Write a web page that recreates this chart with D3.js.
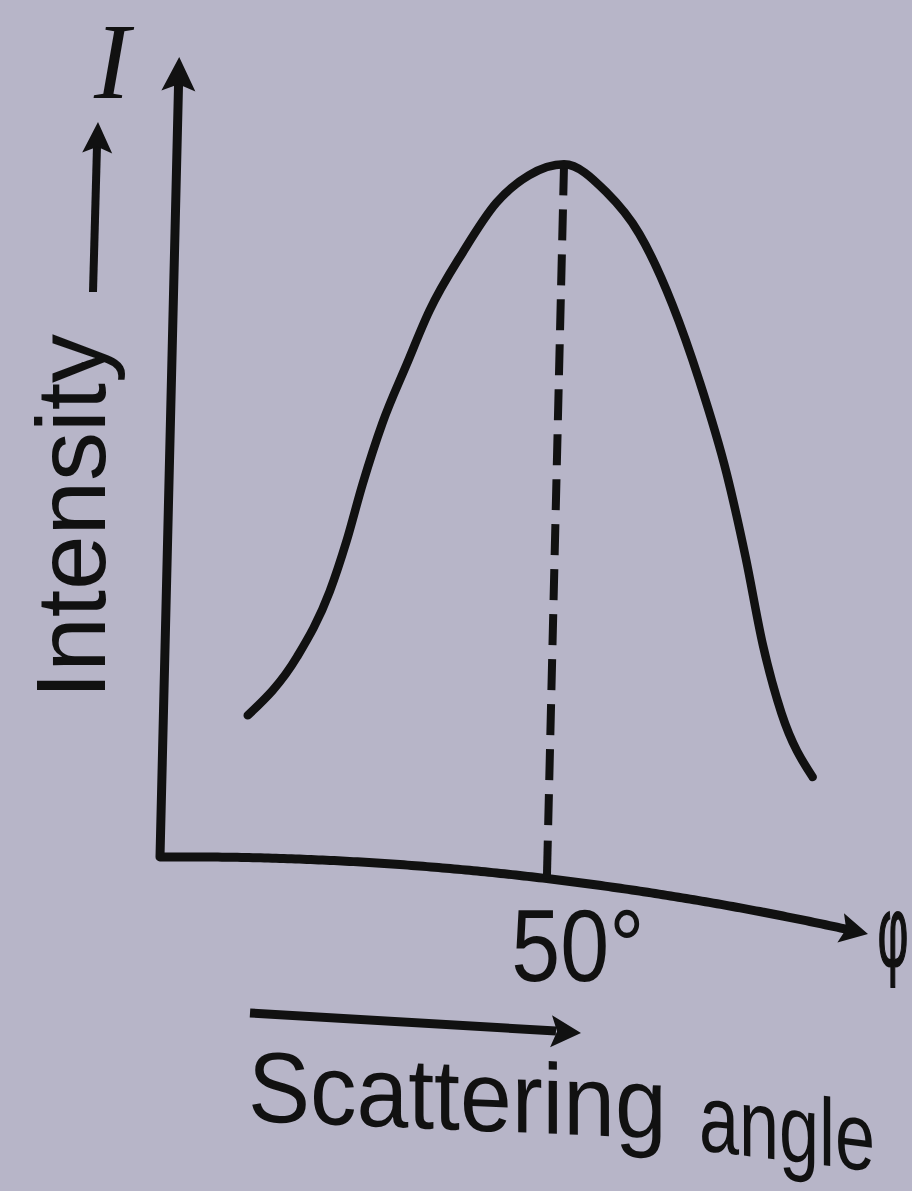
<!DOCTYPE html>
<html>
<head>
<meta charset="utf-8">
<script src="https://cdn.jsdelivr.net/npm/d3@7"></script>
<style>
  html, body { margin: 0; padding: 0; background: #b7b5c8; }
  svg { display: block; }
</style>
</head>
<body>
<div id="chart"></div>
<script>
// scattering angle (deg) vs relative intensity
const angles    = [10.9, 17.1, 21.1, 23.1, 25.0, 27.4, 30.3, 33.1, 37.2, 41.4, 45.5, 50.0,
                   55.5, 59.9, 64.4, 68.1, 71.9, 74.6, 77.1, 79.7, 83.9]
const intensity = [0.199, 0.283, 0.376, 0.447, 0.528, 0.616, 0.699, 0.777, 0.862, 0.936, 0.979, 1.0,
                   0.969, 0.917, 0.825, 0.725, 0.602, 0.490, 0.372, 0.282, 0.202]
const peakAngle = 50
const tickLabels = ['50°']
const xTitle = ['Scattering', 'angle']
const yTitle = 'Intensity'
const ySymbol = 'I'
const xSymbol = 'φ'

const width = 912
const height = 1191
const origin = [160, 857]
const ink = '#111'
const sans = '"Liberation Sans", Arial, sans-serif'

const x = d3.scaleLinear().domain([0, 91.5]).range([0, 708])
const y = d3.scaleLinear().domain([0, 1.12]).range([0, 800])

// the page was photographed at a slant: verticals lean right, the baseline sags
function warp(u, v) {
  return [origin[0] + u + 0.024 * v, origin[1] - v - 0.008 * u + 1.65e-4 * u * u]
}

function arrowHead(tip, dir, len, half) {
  const n = Math.hypot(dir[0], dir[1])
  const d = [dir[0] / n, dir[1] / n]
  const p = [-d[1], d[0]]
  const back = [tip[0] - d[0] * len, tip[1] - d[1] * len]
  const notch = [back[0] + d[0] * len * 0.2, back[1] + d[1] * len * 0.2]
  return 'M' + [tip,
    [back[0] + p[0] * half, back[1] + p[1] * half],
    notch,
    [back[0] - p[0] * half, back[1] - p[1] * half]].map(q => q.join(',')).join('L') + 'Z'
}

const svg = d3.select('#chart').append('svg')
  .attr('width', width)
  .attr('height', height)
  .attr('viewBox', [0, 0, width, height])

svg.append('rect')
  .attr('width', width)
  .attr('height', height)
  .attr('fill', '#b7b5c8')

const line = d3.line()

function label(transform, size, txt) {
  return svg.append('text')
    .attr('transform', transform)
    .attr('fill', ink)
    .style('font-family', sans)
    .style('font-size', size + 'px')
    .text(txt)
}

// --- axes ---
const xMax = x.domain()[1]
const yMax = y.domain()[1]
const axisPts = [warp(0, y(yMax) - 24), warp(0, 0)]
d3.range(0.5, xMax - 2.6, 0.5).forEach(a => axisPts.push(warp(x(a), 0)))
axisPts.push(warp(x(xMax - 2.6), 0))

svg.append('path')
  .attr('d', line(axisPts))
  .attr('fill', 'none')
  .attr('stroke', ink)
  .attr('stroke-width', 9)
  .attr('stroke-linejoin', 'round')

const uEnd = x(xMax)
svg.append('path')
  .attr('d', arrowHead(warp(uEnd, 0), [1, -0.008 + 3.3e-4 * uEnd], 28, 15))
  .attr('fill', ink)

svg.append('path')
  .attr('d', arrowHead(warp(0, y(yMax)), [0.024, -1], 34, 17))
  .attr('fill', ink)

// --- peak marker ---
svg.append('path')
  .attr('d', line([warp(x(peakAngle), y(1.0)), warp(x(peakAngle), 44)]))
  .attr('stroke', ink)
  .attr('stroke-width', 8)
  .attr('stroke-dasharray', '31 14')

svg.append('path')
  .attr('d', line([warp(x(peakAngle), 0), warp(x(peakAngle), 38)]))
  .attr('stroke', ink)
  .attr('stroke-width', 8)

const tickBase = warp(x(peakAngle), 0)
label(`translate(${tickBase[0] + 31},${tickBase[1] + 102}) scale(0.88,1.02)`, 100, tickLabels[0])
  .attr('text-anchor', 'middle')

// --- curve ---
const pts = angles.map((a, i) => warp(x(a), y(intensity[i])))
svg.append('path')
  .attr('d', d3.line().curve(d3.curveMonotoneX)(pts))
  .attr('fill', 'none')
  .attr('stroke', ink)
  .attr('stroke-width', 8.5)
  .attr('stroke-linecap', 'round')

// --- axis symbols ---
svg.append('text')
  .attr('transform', 'translate(112,98)')
  .attr('text-anchor', 'middle')
  .attr('fill', ink)
  .style('font-family', '"Liberation Serif", "Times New Roman", serif')
  .style('font-style', 'italic')
  .style('font-size', '108px')
  .text(ySymbol)

const xTip = warp(uEnd, 0)
label(`translate(${xTip[0] + 25},${xTip[1] + 32}) scale(0.48,1.02)`, 98, xSymbol)
  .attr('text-anchor', 'middle')
  .attr('stroke', ink)
  .attr('stroke-width', 2)

// --- y title with its arrow ---
label('translate(105,699) rotate(-90)', 98, yTitle)

svg.append('path')
  .attr('d', line([[93, 292], [97, 146]]))
  .attr('stroke', ink)
  .attr('stroke-width', 8)
svg.append('path')
  .attr('d', arrowHead([98, 122], [0.026, -1], 31, 15))
  .attr('fill', ink)

// --- x title with its arrow ---
svg.append('path')
  .attr('d', line([[250, 1013], [556, 1031]]))
  .attr('stroke', ink)
  .attr('stroke-width', 9)
svg.append('path')
  .attr('d', arrowHead([581, 1033], [330, 20], 30, 16))
  .attr('fill', ink)

label('translate(248,1121) skewY(2.4) scale(0.93,1)', 100, xTitle[0])
label('translate(699,1150) skewY(7) scale(0.75,1)', 96, xTitle[1])
</script>
</body>
</html>
